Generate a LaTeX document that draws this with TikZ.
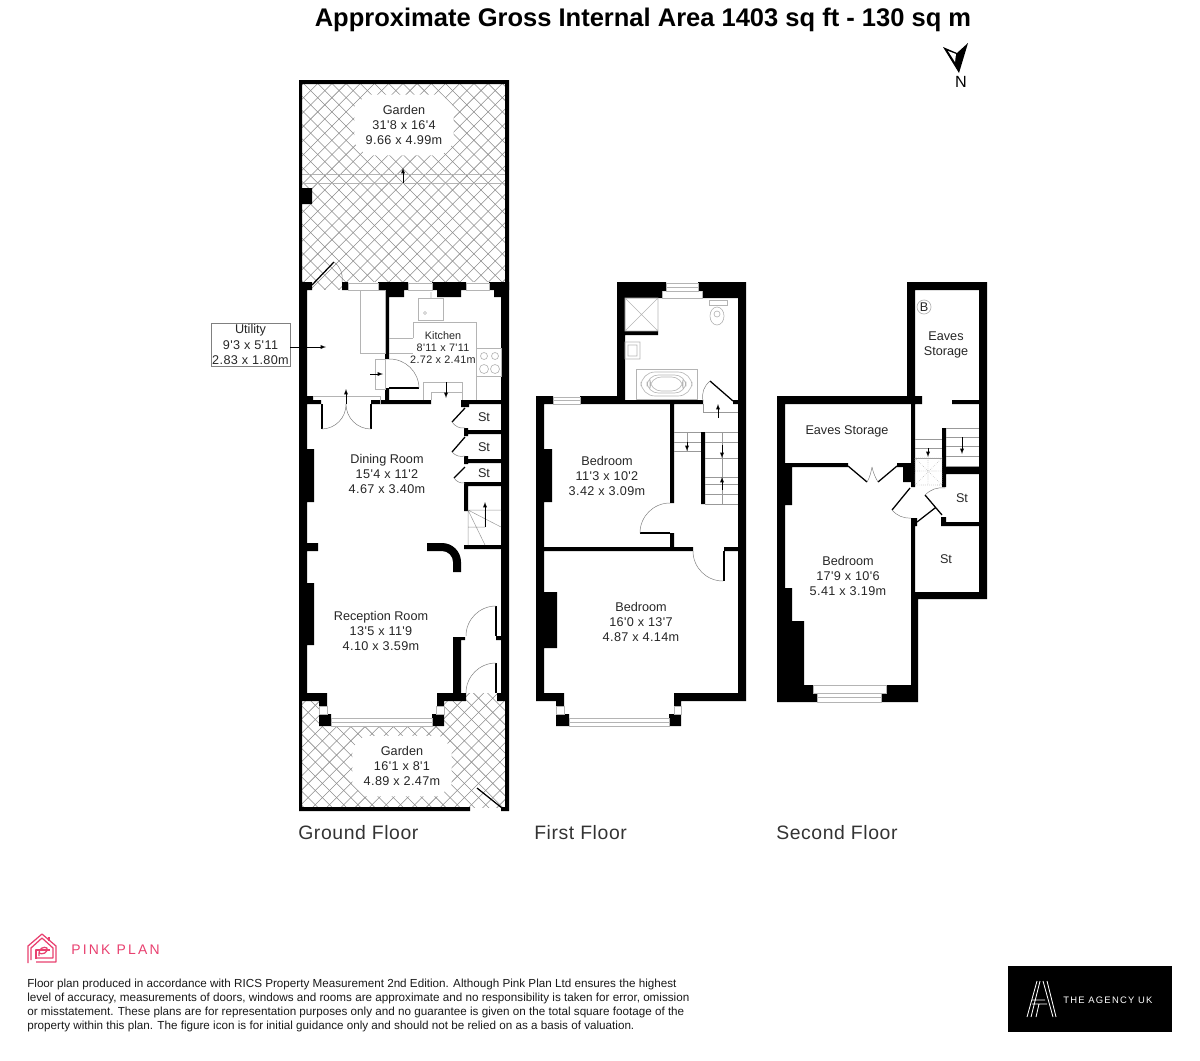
\documentclass[tikz,border=0pt]{standalone}
\usepackage{fontspec}
\setmainfont{Liberation Sans}
\newfontfamily\spacedfont[LetterSpace=16]{Liberation Sans}
\newfontfamily\agencyfont[LetterSpace=13]{Liberation Sans}
\newfontfamily\roomfont[LetterSpace=3]{Liberation Sans}
\usetikzlibrary{shapes.misc}
\definecolor{pinkplan}{HTML}{E8406F}
\definecolor{fixture}{HTML}{B4B4B4}
\definecolor{hatchline}{HTML}{8C8C8C}
\newcommand{\roomdims}[2]{{\roomfont #1}\\{\roomfont #2}}
\tikzset{
  wall/.style={fill=black},
  door/.style={black,line width=.9pt},
  swing/.style={gray,line width=.35pt},
  fixtureline/.style={fixture,line width=.45pt},
  stairline/.style={gray!80,line width=.35pt},
  hatch/.style={hatchline,line width=.4pt},
  tip/.style={-latex,black,line width=.35pt},
  roomlabel/.style={font=\fontsize{9}{10.7}\selectfont,text=black!85,align=center,inner sep=0pt},
  smalllabel/.style={font=\fontsize{7.7}{8.5}\selectfont,text=black!85,align=center,inner sep=0pt},
  gardenlabel/.style={roomlabel,fill=white,chamfered rectangle,chamfered rectangle xsep=5pt,inner xsep=3pt,inner ysep=4pt},
  floorlabel/.style={font=\roomfont\fontsize{13.8}{16}\selectfont,text=black!80,anchor=west,inner sep=0pt}
}
\begin{document}
\begin{tikzpicture}[x=0.025cm,y=-0.025cm]
\useasboundingbox (0,0) rectangle (1200,1060);

% gardens
\begin{scope}
  \clip (302,83) rectangle (505,290);
  \foreach \k in {-40,...,60} {
    \draw[hatch] (300+14.2*\k,80) -- (300+14.2*\k+220,300);
    \draw[hatch] (300+14.2*\k,300) -- (300+14.2*\k+220,80);
  }
\end{scope}
\begin{scope}
  \clip (302,693) rectangle (505,807);
  \foreach \k in {-30,...,40} {
    \draw[hatch] (300+14.2*\k,690) -- (300+14.2*\k+130,820);
    \draw[hatch] (300+14.2*\k,820) -- (300+14.2*\k+130,690);
  }
\end{scope}
\fill[white] (307,290) rectangle (501,693);
\fill[white] (348,282) rectangle (489,290);
\fill[white] (327,693) rectangle (437,726);
\fill[white] (319,701) rectangle (327,714) (437,701) rectangle (444,714);
\fill[white] (466,680) rectangle (497,693);
\draw[fixtureline] (302,174) -- (505,174) (302,183) -- (505,183);
\coordinate (gardentop) at (403,168);
\coordinate (gardenend) at (403,183);
\draw[tip] (gardenend) -- (gardentop);
\fill[wall] (299,80) rectangle (509,84) (299,80) rectangle (302,290) (505,80) rectangle (509,290)
  (302,188) rectangle (312,204)
  (299,701) rectangle (302,811) (505,701) rectangle (509,811)
  (299,807) rectangle (470,811) (501,807) rectangle (509,811);
\draw[door] (477,788) -- (502,808);
\draw[door] (312,285) -- (334,262);
\draw[swing] (334,262) to[bend left=30] (342,282);

% ground floor
\fill[wall]
  (299,282) rectangle (307,701)
  (299,282) rectangle (312,290)
  (342,282) rectangle (348,290)
  (378,282) rectangle (408,290) (385,290) rectangle (404,297)
  (432,282) rectangle (466,290) (437,290) rectangle (461,297)
  (489,282) rectangle (509,290) (494,290) rectangle (501,297)
  (501,282) rectangle (509,640)
  (501,640) rectangle (509,701)
  (385,290) rectangle (389,359) (385,388) rectangle (389,404)
  (299,396) rectangle (313,404) (299,400) rectangle (321,404)
  (371,400) rectangle (431,404) (462,400) rectangle (501,404)
  (461,400) rectangle (469,407)
  (465,430) rectangle (501,434) (465,459) rectangle (501,463) (465,482) rectangle (501,486)
  (464,428) rectangle (468,436) (464,456) rectangle (468,464) (464,482) rectangle (468,511)
  (464,545) rectangle (501,549)
  (307,449) rectangle (314,502) (307,543) rectangle (318,551) (307,583) rectangle (314,645)
  (453,637) rectangle (461,693) (453,637) rectangle (465,640) (496,636) rectangle (501,640)
  (299,693) rectangle (327,701) (319,701) rectangle (327,706) (319,714) rectangle (331,726)
  (432,714) rectangle (444,726) (437,701) rectangle (444,706) (437,693) rectangle (466,701)
  (497,693) rectangle (509,701);
\fill[wall] (427,543) -- (442,543) to[bend left=45] (461,562) -- (461,572) -- (453,572) -- (453,562) to[bend right=45] (442,551) -- (427,551) -- cycle;
\draw[fixtureline] (348,283) rectangle (378,290) (408,283) rectangle (432,290) (466,283) rectangle (489,290);
\draw[fixtureline] (360,290) rectangle (385,353) (375,359) rectangle (385,389);
\draw[fixtureline] (313,396) -- (380,396) -- (380,404);
\draw[fixtureline] (418,298) rectangle (443,320) (413,338) -- (413,322) -- (476,322) -- (476,400)
  (389,338) -- (413,338) (389,353) -- (413,353) (476,348) rectangle (501,376);
\draw[fixtureline] (484,356) circle (3.5) (495,356) circle (3.5) (484,369) circle (4.5) (495,369) circle (4.5);
\draw[fixtureline] (431,292) -- (431,298) (425,313) circle (1.5);
\draw[fixtureline] (423,400) -- (423,382) -- (462,382) -- (462,400) (431,400) -- (431,392) -- (462,392);
\draw[fixtureline] (319,706) rectangle (327,714) (436,706) rectangle (444,714) (331,718) rectangle (432,726) (331,722) -- (432,722);
\draw[door] (389,388) -- (419,388);
\draw[swing] (419,388) to[bend right=45] (389,359);
\draw[door] (322,404) -- (322,429) (371,404) -- (371,429);
\draw[swing] (322,429) to[bend right=45] (346,404) (371,429) to[bend left=45] (346,404);
\draw[door] (465,408) -- (452,422) (465,437) -- (452,452) (465,467) -- (454,478);
\draw[swing] (452,422) to[bend right=30] (465,428) (452,452) to[bend right=30] (465,456) (454,478) to[bend right=30] (465,483);
\draw[door] (496,606) -- (496,636) (496,663) -- (496,693);
\draw[swing] (496,606) to[bend right=45] (466,636) (496,663) to[bend right=45] (466,693);
\draw[stairline] (468,510) -- (501,510) (468,527) -- (485,527) (468,510) -- (468,545) (485,510) -- (485,527)
  (468,510) -- (501,527) (468,510) -- (485,545);
\coordinate (stairstart) at (485,527);
\coordinate (stairend) at (485,502);
\draw[tip] (stairstart) -- (stairend);
\coordinate (kitchenstepa) at (446,382);
\coordinate (kitchenstepb) at (446,398);
\draw[tip] (kitchenstepa) -- (kitchenstepb);
\coordinate (utilitydoora) at (370,374);
\coordinate (utilitydoorb) at (383,374);
\draw[tip] (utilitydoora) -- (utilitydoorb);
\coordinate (diningdoora) at (346,404);
\coordinate (diningdoorb) at (346,389);
\draw[tip] (diningdoora) -- (diningdoorb);

% first floor
\fill[wall]
  (617,282) rectangle (666,291) (625,291) rectangle (662,298)
  (698,282) rectangle (746,291) (702,291) rectangle (738,298)
  (617,282) rectangle (625,404) (738,282) rectangle (746,701)
  (625,331) rectangle (658,335) (733,400) rectangle (738,404)
  (536,396) rectangle (553,404) (580,396) rectangle (617,404) (536,400) rectangle (703,404)
  (536,396) rectangle (544,701)
  (670,404) rectangle (674,503) (670,533) rectangle (674,548)
  (701,432) rectangle (705,504)
  (544,547) rectangle (693,551) (724,547) rectangle (738,551)
  (544,449) rectangle (552,502) (544,592) rectangle (557,648)
  (536,693) rectangle (564,701) (556,701) rectangle (564,706) (556,714) rectangle (569,726)
  (669,714) rectangle (681,726) (674,701) rectangle (681,706) (674,693) rectangle (746,701);
\fill[white] (553,400.5) rectangle (580,403.5);
\draw[fixtureline] (553,397) rectangle (580,404) (553,400) -- (580,400) (666,283) rectangle (698,291) (666,287) -- (698,287) (662,291) -- (662,298) -- (702,298) -- (702,291);
\draw[fixtureline] (556,706) rectangle (564,714) (674,706) rectangle (681,714) (569,718) rectangle (669,726) (569,722) -- (669,722);
\draw[fixtureline] (625,298) rectangle (658,331) (625,298) -- (658,331) (625,331) -- (658,298) (625,342) rectangle (640,359) (628,345) rectangle (637,356);
\draw[fixtureline] (636,369) rectangle (697,399);
\draw[fixtureline, rounded corners=10pt] (641,372) rectangle (692,396);
\draw[fixtureline, rounded corners=8pt] (647,375) rectangle (686,393) (650,377) rectangle (683,391);
\draw[fixtureline] (709,300) rectangle (727,305);
\draw[fixtureline] (717,316) ellipse (7 and 9) (717,314) circle (3);
\draw[door] (710,381) -- (733,401);
\draw[swing] (710,381) to[bend right=30] (703,401);
\draw[door] (670,533) -- (640,533) (724,551) -- (724,581);
\draw[swing] (670,503) to[bend right=45] (640,533) (723,581) to[bend left=45] (693,551);
\draw[stairline] (703,404) -- (703,412) -- (738,412)
  (674,432) -- (701,432) (674,442) -- (701,442) (674,451) -- (701,451)
  (705,432) -- (738,432) (705,442) -- (738,442) (705,458) -- (738,458) (705,477) -- (738,477)
  (705,484) -- (738,484) (705,494) -- (738,494) (705,504) -- (738,504) (722,432) -- (722,504)
  (687,432) -- (687,451);
\coordinate (landinga) at (718,418);
\coordinate (landingb) at (718,404);
\draw[tip] (landinga) -- (landingb);
\coordinate (flighta) at (687,442);
\coordinate (flightb) at (687,451);
\draw[tip] (flighta) -- (flightb);
\coordinate (flightc) at (722,445);
\coordinate (flightd) at (722,458);
\draw[tip] (flightc) -- (flightd);
\coordinate (flighte) at (722,490);
\coordinate (flightf) at (722,477);
\draw[tip] (flighte) -- (flightf);

% second floor
\fill[wall]
  (907,282) rectangle (987,290) (907,282) rectangle (915,404) (979,282) rectangle (987,599)
  (777,396) rectangle (922,404) (952,400) rectangle (979,404)
  (777,396) rectangle (785,702)
  (785,463) rectangle (848,467) (897,463) rectangle (911,467) (903,467) rectangle (912,482)
  (911,404) rectangle (915,487) (785,467) rectangle (792,505)
  (942,428) rectangle (946,487) (946,467) rectangle (979,474)
  (941,517) rectangle (946,525) (941,522) rectangle (979,526)
  (911,518) rectangle (915,600) (915,518) rectangle (917,526)
  (911,592) rectangle (987,599) (911,599) rectangle (918,702)
  (785,588) rectangle (792,621) (785,621) rectangle (804,702)
  (777,685) rectangle (813,702) (813,693) rectangle (817,702)
  (886,685) rectangle (918,702) (881,693) rectangle (886,702);
\draw[fixtureline] (813,685) rectangle (886,693) (817,693) rectangle (881,702) (817,697) -- (881,697);
\draw[door] (848,466) -- (867,482) (878,482) -- (897,466)
  (910,488) -- (892,510) (925,495) -- (942,515) (917,522) -- (935,508);
\draw[swing] (867,482) .. controls (870,477) and (871,472) .. (872,467) (878,482) .. controls (875,477) and (873,472) .. (872,467);
\draw[swing] (892,510) to[bend right=25] (911,518) (945,488) to[bend right=25] (925,495);
\draw[stairline] (915,439) -- (942,439) (915,448) -- (942,448) (915,458) -- (942,458)
  (946,428) -- (979,428) (946,437) -- (979,437) (946,446) -- (979,446) (946,456) -- (979,456) (946,466) -- (979,466);
\draw[fixture,densely dotted] (915,458) rectangle (942,485) (915,458) -- (942,485) (915,485) -- (942,458) (928,458) -- (928,485) (915,471) -- (942,471);
\coordinate (upstaira) at (928,448);
\coordinate (upstairb) at (928,457);
\draw[tip] (upstaira) -- (upstairb);
\coordinate (upstairc) at (962,437);
\coordinate (upstaird) at (962,454);
\draw[tip] (upstairc) -- (upstaird);

% labels
\node[gardenlabel] (gardenback) at (404,125) {Garden\\\roomdims{31'8 x 16'4}{9.66 x 4.99m}};
\node[gardenlabel] (gardenfront) at (402,766) {Garden\\\roomdims{16'1 x 8'1}{4.89 x 2.47m}};
\node[roomlabel,draw=gray,minimum width=1.975cm,minimum height=1.075cm] (utility) at (250.5,344.5) {Utility\\\roomdims{9'3 x 5'11}{2.83 x 1.80m}};
\coordinate (utilityend) at (326,347);
\draw[tip] (utility.east |- utilityend) -- (utilityend);
\node[smalllabel] (kitchen) at (443,348) {Kitchen\\\roomdims{8'11 x 7'11}{2.72 x 2.41m}};
\node[roomlabel] (dining) at (387,474) {Dining Room\\\roomdims{15'4 x 11'2}{4.67 x 3.40m}};
\node[roomlabel] (reception) at (381,631) {Reception Room\\\roomdims{13'5 x 11'9}{4.10 x 3.59m}};
\node[roomlabel] (storea) at (484,417) {St};
\node[roomlabel] (storeb) at (484,447) {St};
\node[roomlabel] (storec) at (484,473) {St};
\node[roomlabel] (bedroomback) at (607,476) {Bedroom\\\roomdims{11'3 x 10'2}{3.42 x 3.09m}};
\node[roomlabel] (bedroomfront) at (641,622) {Bedroom\\\roomdims{16'0 x 13'7}{4.87 x 4.14m}};
\node[roomlabel] (eavesa) at (847,431) {Eaves Storage};
\node[roomlabel] (eavesb) at (946,344.5) {Eaves\\Storage};
\node[roomlabel] (stored) at (962,498) {St};
\node[roomlabel] (storee) at (946,559) {St};
\node[roomlabel] (bedroomtop) at (848,576) {Bedroom\\\roomdims{17'9 x 10'6}{5.41 x 3.19m}};
\node[roomlabel,circle,draw=fixture,line width=.5pt,minimum size=.35cm] (boiler) at (924,307) {B};
\node[floorlabel] (groundfloor) at (298,833) {Ground Floor};
\node[floorlabel] (firstfloor) at (534,833) {First Floor};
\node[floorlabel] (secondfloor) at (776,833) {Second Floor};
\node[font=\bfseries\fontsize{18.14}{20}\selectfont,inner sep=0pt] (title) at (643,20) {Approximate Gross Internal Area 1403 sq ft - 130 sq m};

% north arrow
\fill[black] (943,47) -- (957,53) -- (968,43) -- (959,73) -- cycle;
\fill[white] (948,51) -- (956,54) -- (955,62) -- cycle;
\node[font=\fontsize{11.5}{12}\selectfont,inner sep=0pt] (north) at (961,82) {N};

% pink plan logo
\begin{scope}[pinkplan,line width=.9pt,line join=round]
  \draw (28,963) -- (28,946) -- (42,934) -- (56,946) -- (56,962) -- (36,962);
  \draw (31,960) -- (31,948) -- (42,938) -- (53,948) -- (53,958) -- (36,958);
  \draw (49,937) -- (49,941) (36,959) -- (36,950) -- (50,950);
  \draw (39,956) .. controls (38,948) and (44,946) .. (47,948) .. controls (48,953) and (42,955) .. (39,953);
\end{scope}
\node[font=\spacedfont\fontsize{9.9}{11}\selectfont,text=pinkplan,anchor=west,inner sep=0pt] (pinkplan) at (71,950) {PINK PLAN};

% disclaimer
\node[font=\fontsize{8.3}{9.95}\selectfont,text=black!90,anchor=north west,align=left,inner sep=0pt] (disclaimer) at (27,979) {Floor plan produced in accordance with RICS Property Measurement 2nd Edition. Although Pink Plan Ltd ensures the highest\\
level of accuracy, measurements of doors, windows and rooms are approximate and no responsibility is taken for error, omission\\
or misstatement. These plans are for representation purposes only and no guarantee is given on the total square footage of the\\
property within this plan. The figure icon is for initial guidance only and should not be relied on as a basis of valuation.};

% agency logo
\fill[black] (1008,966) rectangle (1172,1032);
\draw[white,line width=.6pt] (1027,1017) -- (1037,981) (1031,1017) -- (1040,981) (1053,1017) -- (1043,981) (1056,1017) -- (1047,981)
  (1032,1000) -- (1045,1000) (1032,1004) -- (1047,1004) (1036,1017) -- (1039,1004);
\node[font=\agencyfont\fontsize{6.7}{8}\selectfont,text=white,anchor=west,inner sep=0pt] (agency) at (1063,1000) {THE AGENCY UK};
\end{tikzpicture}
\end{document}
